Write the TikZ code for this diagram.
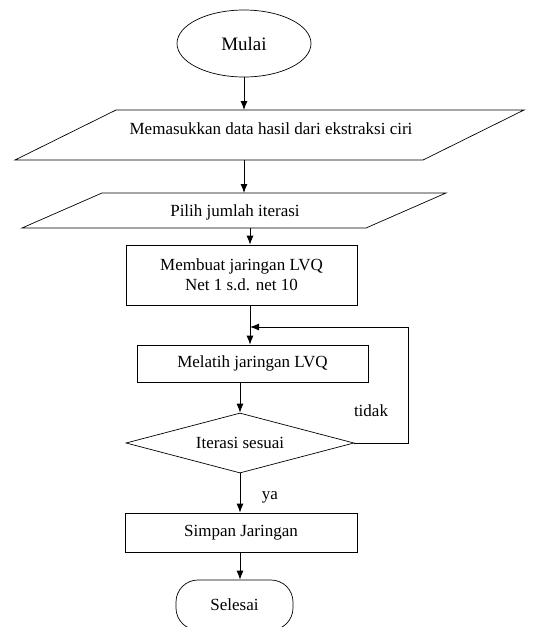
\documentclass[tikz,border=0pt]{standalone}
\usepackage{fontspec}
\setmainfont{Liberation Serif}
\usetikzlibrary{arrows,arrows.meta,positioning,shapes.geometric,calc}

\begin{document}
\begin{tikzpicture}[x=1pt,y=-1pt,>={Latex[length=9pt,width=7pt]},line width=0.7pt,
  font=\fontsize{17}{20}\selectfont,
  proses/.style={draw,rectangle,inner sep=0pt,align=center},
  panah/.style={->,line width=0.9pt}]
\useasboundingbox (0,0) rectangle (536,627);

% terminal awal
\node[draw,ellipse,minimum width=134pt,minimum height=67pt,inner sep=0pt,font=\fontsize{19}{22}\selectfont] (mulai) at (244,43.5) {Mulai};

% input data
\draw (116,110) -- (524,110) -- (423,160) -- (15,160) -- cycle;
\node (in1) at (271,129) {Memasukkan data hasil dari ekstraksi ciri};
\coordinate (in1n) at (244,110);
\coordinate (in1s) at (244,160);

% input iterasi
\draw (102,193) -- (446,193) -- (366,228) -- (22,228) -- cycle;
\node (in2) at (235,212) {Pilih jumlah iterasi};
\coordinate (in2n) at (244,193);
\coordinate (in2s) at (250,228);

\node[proses,minimum width=231pt,minimum height=60pt] (buat) at (241.5,275) {Membuat jaringan LVQ\\Net 1 s.d. net 10};
\node[proses,minimum width=231pt,minimum height=37pt] (latih) at (252.5,363.5) {Melatih jaringan LVQ};
\node[draw,diamond,aspect=3.8,inner sep=0pt,minimum width=228pt,minimum height=60pt] (cek) at (240,443) {Iterasi sesuai};
\node[proses,minimum width=232pt,minimum height=39pt] (simpan) at (241,532.5) {Simpan Jaringan};
\node[draw,rectangle,rounded corners=22pt,minimum width=117pt,minimum height=50pt] (selesai) at (234.5,605) {Selesai};

\coordinate (join) at (250,327);
\coordinate (balik) at (408,327);

\draw[panah] (mulai.south) -- (in1n);
\draw[panah] (in1s) -- (in2n);
\draw[panah] (in2s) -- (buat.north -| in2s);
\draw[panah] (buat.south -| join) -- (latih.north -| join);
\draw[panah] (cek.east) -| (balik) -- (join);
\draw[panah] (latih.south -| cek.north) -- (cek.north);
\draw[panah] (cek.south) -- (simpan.north -| cek.south);
\draw[panah] (simpan.south -| cek.south) -- (selesai.north -| cek.south);

\node (tidak) at (371,411) {tidak};
\node (ya) at (270,497) {ya};
\end{tikzpicture}
\end{document}
